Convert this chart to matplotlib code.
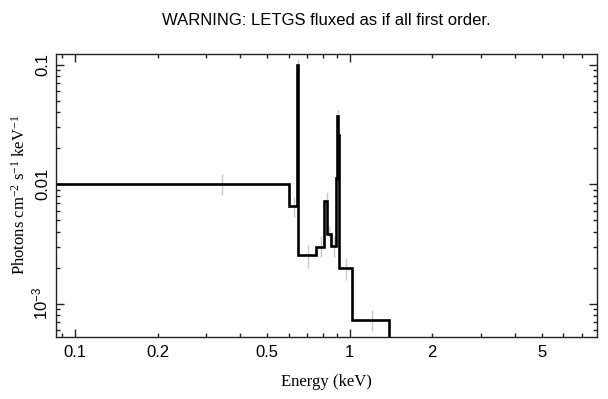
import matplotlib
matplotlib.use("Agg")
import matplotlib.pyplot as plt
from matplotlib.ticker import FixedLocator, NullFormatter, FuncFormatter

plt.rcParams['mathtext.fontset'] = 'custom'
plt.rcParams['mathtext.rm'] = 'Liberation Serif'
plt.rcParams['mathtext.it'] = 'Liberation Serif:italic'
plt.rcParams['mathtext.sf'] = 'Liberation Sans'

# Step spectrum (bin edges in keV, flux per bin)
bin_edges = [0.0851, 0.603, 0.646, 0.650, 0.754, 0.807, 0.829, 0.853,
             0.894, 0.901, 0.908, 0.916, 1.023, 1.391, 7.98]
flux = [0.0101, 0.00656, 0.1, 0.00256, 0.0030, 0.0072, 0.0038, 0.00306,
        0.0112, 0.037, 0.0256, 0.00198, 0.00073, 1e-4]

# Error bars
err_e = [0.344, 0.629, 0.648, 0.704, 0.785, 0.825, 0.841, 0.880, 0.905, 0.970, 1.204]
err_lo = [0.00809, 0.00531, 0.088, 0.0020, 0.00247, 0.0060, 0.0036, 0.00248, 0.033, 0.00159, 0.00059]
err_hi = [0.0121, 0.00779, 0.112, 0.0031, 0.0037, 0.0086, 0.0045, 0.00369, 0.0415, 0.00242, 0.00089]

x_major = [0.1, 1.0]
x_minor = [0.09, 0.2, 0.3, 0.4, 0.5, 0.6, 0.7, 0.8, 0.9, 2, 3, 4, 5, 6, 7]
x_minor_labelled = {0.2: "0.2", 0.5: "0.5", 2: "2", 5: "5"}
y_major = [1e-3, 1e-2, 1e-1]
y_labels = [r"$\mathsf{10^{-3}}$", "0.01", "0.1"]
y_minor = [6e-4, 7e-4, 8e-4, 9e-4, 2e-3, 3e-3, 4e-3, 5e-3, 6e-3, 7e-3, 8e-3, 9e-3,
           2e-2, 3e-2, 4e-2, 5e-2, 6e-2, 7e-2, 8e-2, 9e-2]

FS = 12

fig = plt.figure(figsize=(6.08, 3.99), dpi=100)
ax = fig.add_axes([55.7/608, 1 - 336.7/399, (597.3 - 55.7)/608, (336.7 - 54)/399])

ax.vlines(err_e, err_lo, err_hi, color='#c8c8c8', linewidth=1.0, zorder=1)
ax.stairs(flux, bin_edges, color='black', linewidth=1.9, baseline=None, zorder=2)

ax.set_xscale('log')
ax.set_yscale('log')
ax.set_xlim(0.0851, 7.98)
ax.set_ylim(5.31e-4, 0.1228)

ax.xaxis.set_major_locator(FixedLocator(x_major))
ax.xaxis.set_major_formatter(FuncFormatter(lambda v, p: "0.1" if abs(v - 0.1) < 1e-9 else "1"))
ax.xaxis.set_minor_locator(FixedLocator(x_minor))


def minor_fmt(v, p):
    for k, s in x_minor_labelled.items():
        if abs(v - k) < 1e-6 * k:
            return s
    return ""


ax.xaxis.set_minor_formatter(FuncFormatter(minor_fmt))

ax.set_yticks(y_major)
ax.set_yticklabels(y_labels, fontfamily='Liberation Sans', fontsize=FS, rotation=90, va='center')
ax.yaxis.set_minor_locator(FixedLocator(y_minor))
ax.yaxis.set_minor_formatter(NullFormatter())

ax.tick_params(which='both', direction='in', top=True, right=True, width=1.0, color='#222222')
ax.tick_params(which='major', length=5.8)
ax.tick_params(which='minor', length=2.8)
ax.tick_params(axis='x', which='both', pad=6, labelsize=FS)
ax.tick_params(axis='y', which='both', pad=4, labelsize=FS)
for lab in ax.get_xticklabels(which='both'):
    lab.set_fontfamily('Liberation Sans')
for sp in ax.spines.values():
    sp.set_linewidth(1.0)
    sp.set_color('#222222')

ax.set_xlabel("Energy (keV)", fontfamily='Liberation Serif', fontsize=FS, labelpad=10)
ax.set_ylabel(r"Photons cm$^{-2}$ s$^{-1}$ keV$^{-1}$", fontfamily='Liberation Serif', fontsize=FS, labelpad=1)
ax.set_title("WARNING: LETGS fluxed as if all first order.", fontfamily='Liberation Sans',
             fontsize=FS, pad=21)

fig.savefig("out.png", dpi=100)
